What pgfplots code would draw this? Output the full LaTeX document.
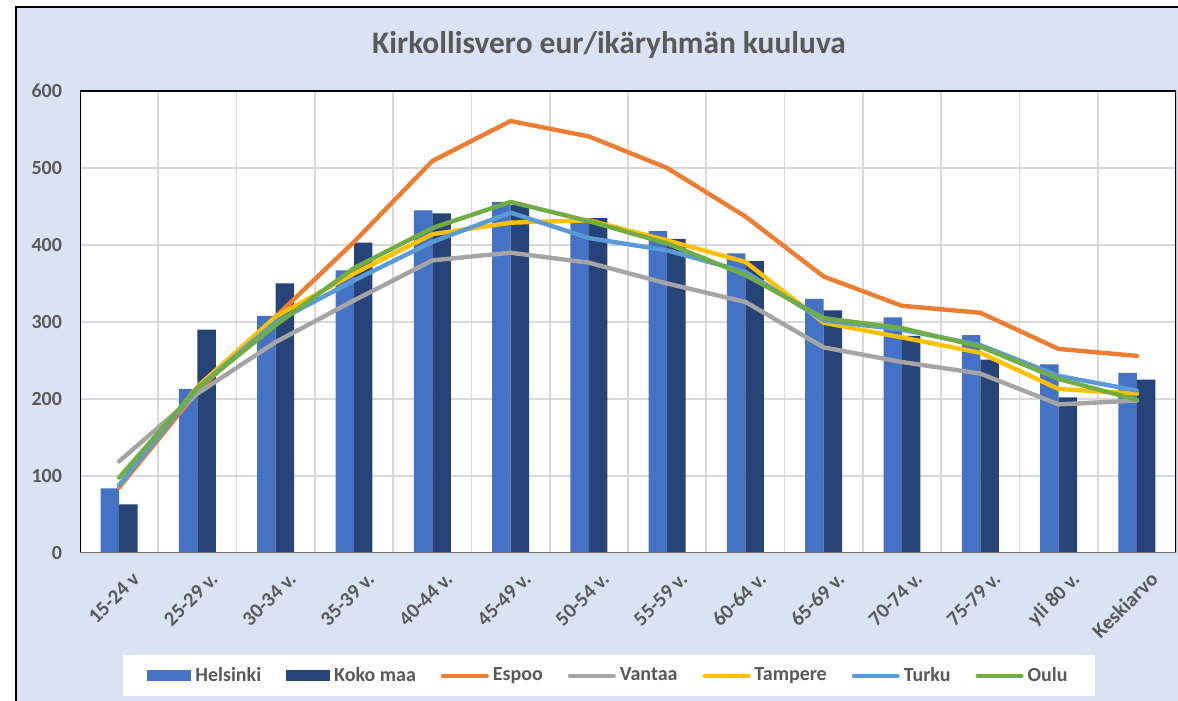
\documentclass[border=0pt]{standalone}
\usepackage{pgfplots}
\pgfplotsset{compat=1.18}
\usepackage{fontspec}
\setmainfont{Carlito}
\definecolor{bgblue}{HTML}{DAE3F3}
\definecolor{tcol}{HTML}{595959}
\definecolor{cHel}{HTML}{4472C4}
\definecolor{cKoko}{HTML}{264478}
\definecolor{cEsp}{HTML}{ED7D31}
\definecolor{cVan}{HTML}{A5A5A5}
\definecolor{cTam}{HTML}{FFC000}
\definecolor{cTur}{HTML}{5B9BD5}
\definecolor{cOul}{HTML}{70AD47}
\definecolor{gridc}{HTML}{D9D9D9}
\begin{document}
\begin{tikzpicture}
\useasboundingbox (0pt,0pt) rectangle (589pt,350.5pt);
\fill[white] (0pt,0pt) rectangle (589pt,350.5pt);
\fill[bgblue] (8pt,0pt) rectangle (589pt,347pt);
\draw[black, line width=0.9pt] (8pt,0pt) -- (8pt,347pt) -- (589pt,347pt);
\node[font=\fontsize{15.7}{19}\selectfont\bfseries, text=tcol] at (304.5pt,328pt) {Kirkollisvero eur/ikäryhmän kuuluva};
\begin{axis}[
  at={(40pt,74pt)}, anchor=south west,
  scale only axis, width=548pt, height=231pt,
  xmin=-0.5, xmax=13.5, ymin=0, ymax=600,
  axis background/.style={fill=white},
  axis line style={draw=none},
  xtick={0,...,13},
  xticklabels={15-24 v,25-29 v.,30-34 v.,35-39 v.,40-44 v.,45-49 v.,50-54 v.,55-59 v.,60-64 v.,65-69 v.,70-74 v.,75-79 v.,yli 80 v.,Keskiarvo},
  minor xtick={0.5,1.5,...,12.5},
  ytick={0,100,...,600},
  minor x grid style={gridc, line width=0.8pt},
  xminorgrids=true,
  ymajorgrids=true,
  major grid style={gridc, line width=0.8pt},
  major tick length=0pt, minor tick length=0pt,
  tick style={draw=none},
  /pgf/number format/assume math mode=true,
  tick label style={font=\fontsize{10}{12}\selectfont\bfseries, text=tcol},
  yticklabel style={xshift=-5.5pt},
  xticklabel style={font=\fontsize{10.3}{12}\selectfont\bfseries, rotate=45, anchor=north east, xshift=1.5pt, yshift=-7pt},
  legend columns=7,
  legend style={at={(0.4831,-0.2652)}, anchor=center, draw=none, fill=white,
    font=\fontsize{10}{12}\selectfont\bfseries, text=tcol,
    inner xsep=12pt, inner ysep=4pt,
    /tikz/every even column/.append style={column sep=10.5pt}},
  legend cell align=left,
]
\addplot[ybar, bar width=0.236, bar shift=-0.118, fill=cHel, draw=none,
  legend image code/.code={\fill[cHel] (0pt,-2.8pt) rectangle (22pt,2.8pt);}]
  coordinates {(0,84)(1,213)(2,308)(3,367)(4,445)(5,456)(6,430)(7,418)(8,389)(9,330)(10,306)(11,283)(12,245)(13,234)};
\addlegendentry{Helsinki}
\addplot[ybar, bar width=0.236, bar shift=0.118, fill=cKoko, draw=none,
  legend image code/.code={\fill[cKoko] (0pt,-2.8pt) rectangle (22pt,2.8pt);}]
  coordinates {(0,63)(1,290)(2,350)(3,403)(4,441)(5,452)(6,435)(7,408)(8,379)(9,315)(10,282)(11,251)(12,202)(13,225)};
\addlegendentry{Koko maa}
\pgfplotsset{every axis plot post/.append style={line width=2.2pt, line cap=round, line join=round, mark=none}}
\addplot[cEsp, legend image code/.code={\draw[cEsp,line width=2pt,line cap=round] (0pt,0pt) -- (22pt,0pt);}]
  coordinates {(0,85)(1,210)(2,307)(3,404)(4,509)(5,561)(6,541)(7,500)(8,437)(9,359)(10,321)(11,312)(12,265)(13,256)};
\addlegendentry{Espoo}
\addplot[cVan, legend image code/.code={\draw[cVan,line width=2pt,line cap=round] (0pt,0pt) -- (22pt,0pt);}]
  coordinates {(0,119)(1,207)(2,274)(3,328)(4,380)(5,390)(6,377)(7,350)(8,326)(9,267)(10,248)(11,233)(12,193)(13,198)};
\addlegendentry{Vantaa}
\addplot[cTam, legend image code/.code={\draw[cTam,line width=2pt,line cap=round] (0pt,0pt) -- (22pt,0pt);}]
  coordinates {(0,88)(1,216)(2,307)(3,363)(4,414)(5,429)(6,432)(7,406)(8,378)(9,299)(10,280)(11,260)(12,213)(13,207)};
\addlegendentry{Tampere}
\addplot[cTur, legend image code/.code={\draw[cTur,line width=2pt,line cap=round] (0pt,0pt) -- (22pt,0pt);}]
  coordinates {(0,88)(1,214)(2,300)(3,354)(4,404)(5,442)(6,409)(7,393)(8,365)(9,302)(10,290)(11,270)(12,230)(13,211)};
\addlegendentry{Turku}
\addplot[cOul, legend image code/.code={\draw[cOul,line width=2pt,line cap=round] (0pt,0pt) -- (22pt,0pt);}]
  coordinates {(0,98)(1,214)(2,296)(3,370)(4,422)(5,456)(6,431)(7,402)(8,361)(9,305)(10,292)(11,268)(12,226)(13,199)};
\addlegendentry{Oulu}
\draw[black, line width=0.9pt] (rel axis cs:0,0) -- (rel axis cs:0,1) -- (rel axis cs:1,1) -- (rel axis cs:1,0);
\draw[black!55, line width=0.9pt] (rel axis cs:0,0) -- (rel axis cs:1,0);
\end{axis}
\end{tikzpicture}
\end{document}
